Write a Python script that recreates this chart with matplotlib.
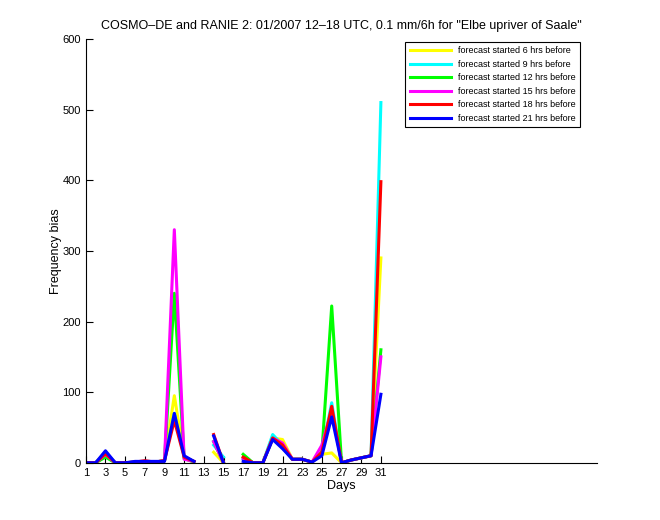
import numpy as np
import matplotlib
matplotlib.use('Agg')
import matplotlib.pyplot as plt

nan = np.nan
days = np.arange(1, 32)

# frequency bias per day for each forecast lead time (nan = no data)
f06 = [0, 0, 10, 0, 0, 1, 1, 1, 3, 95, 8, 2, nan, 15, 0, nan, 8, 0, 0, 35, 33, 5, 5, 1, 12, 14, 0, 4, 7, 10, 290]
f09 = [0, 0, 15, 0, 0, 0, 0, 0, 3, 70, 8, 2, nan, 25, 8, nan, 6, 0, 0, 40, 25, 5, 5, 1, 15, 85, 0, 4, 7, 10, 510]
f12 = [0, 0, 8, 0, 0, 1, 1, 1, 3, 240, 6, 1, nan, 30, 0, nan, 12, 0, 0, 35, 22, 5, 5, 1, 15, 222, 0, 4, 7, 10, 160]
f15 = [0, 0, 12, 0, 0, 1, 1, 1, 3, 330, 5, 2, nan, 30, 0, nan, 6, 0, 0, 35, 28, 5, 5, 1, 25, 75, 0, 4, 7, 10, 150]
f18 = [0, 0, 13, 0, 0, 1, 3, 1, 3, 60, 8, 2, nan, 40, 0, nan, 8, 0, 0, 35, 25, 5, 5, 1, 15, 80, 0, 4, 7, 10, 398]
f21 = [0, 0, 17, 0, 0, 2, 2, 2, 2, 70, 10, 2, nan, 38, 0, nan, 2, 0, 0, 33, 20, 5, 5, 1, 10, 65, 0, 4, 7, 10, 97]

series = [f06, f09, f12, f15, f18, f21]
labels = ['forecast started 6 hrs before', 'forecast started 9 hrs before',
          'forecast started 12 hrs before', 'forecast started 15 hrs before',
          'forecast started 18 hrs before', 'forecast started 21 hrs before']
colors = ['#ffff00', '#00ffff', '#00ff00', '#ff00ff', '#ff0000', '#0000ff']

plt.rcParams['font.family'] = ['Liberation Sans', 'DejaVu Sans']
fig = plt.figure(figsize=(6.6, 5.2), dpi=100)
ax = fig.add_axes([0.13, 0.11, 0.775, 0.815])

for vals, lab, col in zip(series, labels, colors):
    ax.plot(days, vals, color=col, linewidth=2.2, label=lab)

ax.set_xlim(1, 53)
ax.set_ylim(0, 600)
ax.set_xticks(np.arange(1, 32, 2))
ax.set_yticks(np.arange(0, 601, 100))
ax.tick_params(direction='in', labelsize=8, length=5)
ax.spines['top'].set_visible(False)
ax.spines['right'].set_visible(False)
ax.set_xlabel('Days', fontsize=9, labelpad=2)
ax.set_ylabel('Frequency bias', fontsize=9, labelpad=0)
ax.set_title('COSMO\u2013DE and RANIE 2: 01/2007 12\u201318 UTC, 0.1 mm/6h for "Elbe upriver of Saale"',
             fontsize=9, pad=7)

leg = ax.legend(loc='upper right', fontsize=6.5, fancybox=False, framealpha=1,
                edgecolor='black', handlelength=4.6, borderpad=0.45, labelspacing=0.5,
                bbox_to_anchor=(0.975, 1.003))
leg.get_frame().set_linewidth(0.8)

plt.savefig('out.png')
